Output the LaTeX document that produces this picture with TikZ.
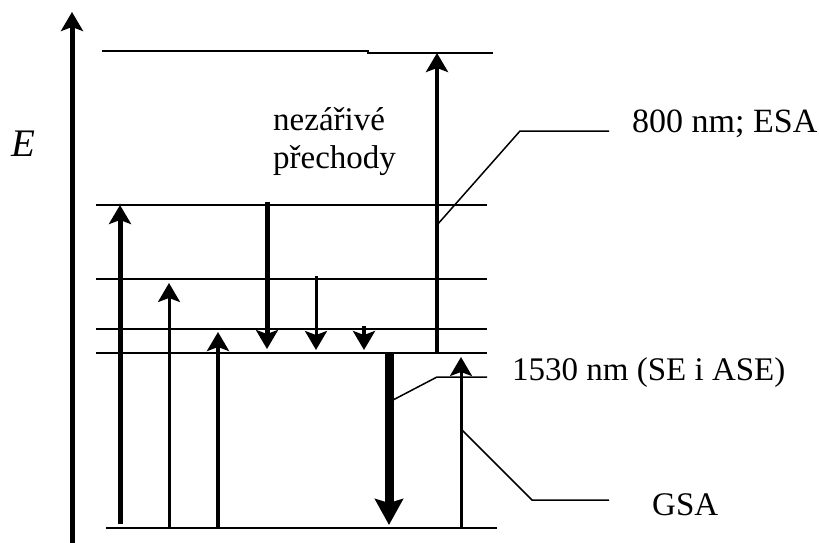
\documentclass[tikz,border=0pt]{standalone}
\usepackage{fontspec}
\setmainfont{Liberation Serif}
\usetikzlibrary{arrows.meta}
\begin{document}
\begin{tikzpicture}[x=1pt,y=-1pt,
  lev/.style={line width=1.6pt},
  leader/.style={line width=1.5pt},
  arr/.style={line width=#1,-{Stealth[length=19pt,width=22pt,inset=4pt]}},
  bigarr/.style={line width=9pt,-{Stealth[length=26pt,width=28pt,inset=4pt]}},
  lbl/.style={anchor=base west,inner sep=0pt,font=\fontsize{33}{38}\selectfont}]
\useasboundingbox (0,0) rectangle (819,543);
% energy axis
\coordinate (axB) at (72,548);
\coordinate (axT) at (72,12);
\draw[arr=5pt] (axB) -- (axT);
\node[lbl,font=\fontsize{39}{44}\selectfont] (E) at (11,156) {\textit{E}};
% levels
\coordinate (L1a) at (102,51); \coordinate (L1b) at (368,51);
\coordinate (L1c) at (368,53); \coordinate (L1d) at (493,53);
\draw[lev] (L1a) -- (L1b) -- (L1c) -- (L1d);
\coordinate (L2a) at (96,205); \coordinate (L2b) at (487,205);
\coordinate (L3a) at (96,279); \coordinate (L3b) at (487,279);
\coordinate (L4a) at (96,329); \coordinate (L4b) at (487,329);
\coordinate (L5a) at (96,353); \coordinate (L5b) at (487,353);
\coordinate (G0a) at (106,528); \coordinate (G0b) at (497,528);
\draw[lev] (L2a) -- (L2b);
\draw[lev] (L3a) -- (L3b);
\draw[lev] (L4a) -- (L4b);
\draw[lev] (L5a) -- (L5b);
\draw[lev] (G0a) -- (G0b);
% absorption arrows
\coordinate (a1s) at (120,524); \coordinate (a1e) at (120,205);
\draw[arr=5pt] (a1s) -- (a1e);
\coordinate (a2s) at (169,528); \coordinate (a2e) at (169,283);
\draw[arr=3pt] (a2s) -- (a2e);
\coordinate (a3s) at (218,528); \coordinate (a3e) at (218,332);
\draw[arr=4.5pt] (a3s) -- (a3e);
% non-radiative transitions
\coordinate (d1s) at (267,202); \coordinate (d1e) at (267,349);
\draw[arr=5pt] (d1s) -- (d1e);
\coordinate (d2s) at (316,276); \coordinate (d2e) at (316,350);
\draw[arr=3pt] (d2s) -- (d2e);
\coordinate (d3s) at (364,326); \coordinate (d3e) at (364,350);
\draw[arr=4pt] (d3s) -- (d3e);
% emission
\coordinate (ems) at (389,353); \coordinate (eme) at (389,525);
\draw[bigarr] (ems) -- (eme);
% ESA
\coordinate (esas) at (437,353); \coordinate (esae) at (437,53);
\draw[arr=4.5pt] (esas) -- (esae);
% GSA
\coordinate (gsas) at (461,528); \coordinate (gsae) at (461,357);
\draw[arr=3pt] (gsas) -- (gsae);
% text
\node[lbl] (t1) at (273,130) {nezářivé};
\node[lbl] (t2) at (273,168) {přechody};
\node[lbl,font=\fontsize{34}{38}\selectfont] (esa) at (632,132) {800 nm; ESA};
\node[lbl] (se) at (512,380) {1530 nm (SE i ASE)};
\node[lbl] (gsa) at (652,515) {GSA};
% leaders
\coordinate (p1) at (437,225); \coordinate (p2) at (520,131); \coordinate (p3) at (609,131);
\draw[leader] (p1) -- (p2) -- (p3);
\coordinate (q1) at (393,400); \coordinate (q2) at (437,377); \coordinate (q3) at (487,377);
\draw[leader] (q1) -- (q2) -- (q3);
\coordinate (r1) at (462,430); \coordinate (r2) at (532,500); \coordinate (r3) at (609,500);
\draw[leader] (r1) -- (r2) -- (r3);
\end{tikzpicture}
\end{document}
